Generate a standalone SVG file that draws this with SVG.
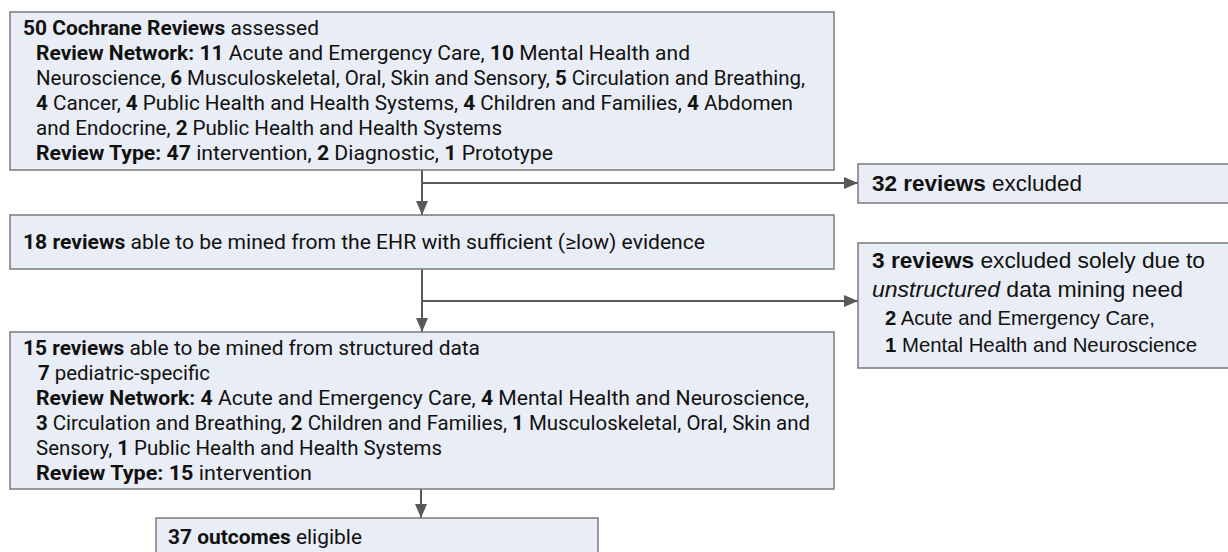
<svg xmlns="http://www.w3.org/2000/svg" width="1228" height="552" viewBox="0 0 1228 552">
<defs>
<style>
.box{fill:#e9edf5;stroke:#7a7a7a;stroke-width:1.5}
.t{font-family:Roboto,"Open Sans",sans-serif;font-size:20.5px;fill:#111}
.b{font-weight:700}
.a{font-family:"Liberation Sans",Arial,sans-serif;fill:#111}
.a1{font-size:22.7px}
.a2{font-size:20.2px}
.c{stroke:#595959;stroke-width:2;fill:none}
</style>
<marker id="ah" viewBox="0 0 14 12" refX="14" refY="6" markerWidth="14" markerHeight="12" markerUnits="userSpaceOnUse" orient="auto">
<path d="M0,0 L14,6 L0,12 z" fill="#595959"/>
</marker>
</defs>
<rect width="1228" height="552" fill="#ffffff"/>
<g id="connectors">
<path class="c" d="M422,170 V215" marker-end="url(#ah)"/>
<path class="c" d="M422,183 H858" marker-end="url(#ah)"/>
<path class="c" d="M422,269 V332" marker-end="url(#ah)"/>
<path class="c" d="M422,301 H858" marker-end="url(#ah)"/>
<path class="c" d="M421,489 V518" marker-end="url(#ah)"/>
</g>
<g id="assessed">
<rect class="box" x="10" y="12" width="824" height="158"/>
<text class="t" x="23" y="35" textLength="296" lengthAdjust="spacingAndGlyphs"><tspan class="b">50 Cochrane Reviews</tspan> assessed</text>
<text class="t" x="36" y="60" textLength="654" lengthAdjust="spacingAndGlyphs"><tspan class="b">Review Network: 11</tspan> Acute and Emergency Care, <tspan class="b">10</tspan> Mental Health and</text>
<text class="t" x="36" y="85" textLength="769" lengthAdjust="spacingAndGlyphs">Neuroscience, <tspan class="b">6</tspan> Musculoskeletal, Oral, Skin and Sensory, <tspan class="b">5</tspan> Circulation and Breathing,</text>
<text class="t" x="36" y="110" textLength="757" lengthAdjust="spacingAndGlyphs"><tspan class="b">4</tspan> Cancer, <tspan class="b">4</tspan> Public Health and Health Systems, <tspan class="b">4</tspan> Children and Families, <tspan class="b">4</tspan> Abdomen</text>
<text class="t" x="36" y="135" textLength="466" lengthAdjust="spacingAndGlyphs">and Endocrine, <tspan class="b">2</tspan> Public Health and Health Systems</text>
<text class="t" x="36" y="160" textLength="517" lengthAdjust="spacingAndGlyphs"><tspan class="b">Review Type: 47</tspan> intervention, <tspan class="b">2</tspan> Diagnostic, <tspan class="b">1</tspan> Prototype</text>
</g>
<g id="mined-ehr">
<rect class="box" x="10" y="215" width="824" height="54"/>
<text class="t" x="23" y="249" textLength="682" lengthAdjust="spacingAndGlyphs"><tspan class="b">18 reviews</tspan> able to be mined from the EHR with sufficient (≥low) evidence</text>
</g>
<g id="structured">
<rect class="box" x="10" y="332" width="824" height="157"/>
<text class="t" x="23" y="355" textLength="457" lengthAdjust="spacingAndGlyphs"><tspan class="b">15 reviews</tspan> able to be mined from structured data</text>
<text class="t" x="38" y="380" textLength="172" lengthAdjust="spacingAndGlyphs"><tspan class="b">7</tspan> pediatric-specific</text>
<text class="t" x="36" y="405" textLength="773" lengthAdjust="spacingAndGlyphs"><tspan class="b">Review Network: 4</tspan> Acute and Emergency Care, <tspan class="b">4</tspan> Mental Health and Neuroscience,</text>
<text class="t" x="36" y="430" textLength="774" lengthAdjust="spacingAndGlyphs"><tspan class="b">3</tspan> Circulation and Breathing, <tspan class="b">2</tspan> Children and Families, <tspan class="b">1</tspan> Musculoskeletal, Oral, Skin and</text>
<text class="t" x="36" y="455" textLength="406" lengthAdjust="spacingAndGlyphs">Sensory, <tspan class="b">1</tspan> Public Health and Health Systems</text>
<text class="t" x="36" y="480" textLength="276" lengthAdjust="spacingAndGlyphs"><tspan class="b">Review Type: 15</tspan> intervention</text>
</g>
<g id="outcomes">
<rect class="box" x="156" y="518" width="442" height="50"/>
<text class="t" x="168" y="544" textLength="194" lengthAdjust="spacingAndGlyphs"><tspan class="b">37 outcomes</tspan> eligible</text>
</g>
<g id="excluded-32">
<rect class="box" x="858" y="164" width="380" height="39"/>
<text class="a a1" x="872" y="191" textLength="210" lengthAdjust="spacingAndGlyphs"><tspan class="b">32 reviews</tspan> excluded</text>
</g>
<g id="excluded-3">
<rect class="box" x="858" y="243" width="380" height="125"/>
<text class="a a1" x="872" y="268" textLength="333" lengthAdjust="spacingAndGlyphs"><tspan class="b">3 reviews</tspan> excluded solely due to</text>
<text class="a a1" x="872" y="297" textLength="311" lengthAdjust="spacingAndGlyphs"><tspan font-style="italic">unstructured</tspan> data mining need</text>
<text class="a a2" x="885" y="325" textLength="270" lengthAdjust="spacingAndGlyphs"><tspan class="b">2</tspan> Acute and Emergency Care,</text>
<text class="a a2" x="885" y="352" textLength="312" lengthAdjust="spacingAndGlyphs"><tspan class="b">1</tspan> Mental Health and Neuroscience</text>
</g>
</svg>
